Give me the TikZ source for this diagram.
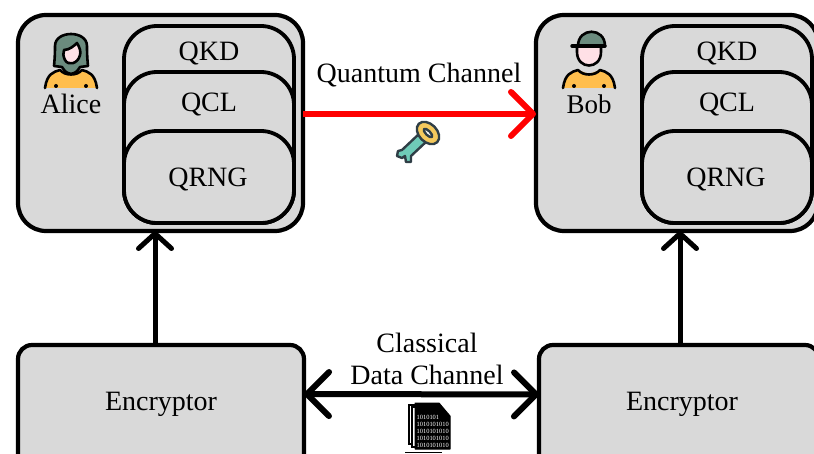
\documentclass[tikz,border=0pt]{standalone}
\usepackage{fontspec}
\setmainfont{Liberation Serif}
\usetikzlibrary{arrows.meta}
\definecolor{boxgray}{HTML}{D9D9D9}
\definecolor{hairgreen}{HTML}{6B8B7E}
\definecolor{shirt}{HTML}{FFBE4D}
\definecolor{skin}{HTML}{FFE0E6}
\definecolor{keyteal}{HTML}{6FCBB8}
\definecolor{keygold}{HTML}{F4C95D}
\definecolor{keydark}{HTML}{2F3E46}
\tikzset{
  x=1pt,y=-1pt,
  outerbox/.style={draw=black,fill=boxgray,line width=4.2pt,rounded corners=28pt,anchor=north west,inner sep=0pt,outer sep=0pt},
  innerbox/.style={draw=black,fill=boxgray,line width=3.8pt,rounded corners=33pt,anchor=north west,inner sep=0pt,outer sep=0pt},
  encbox/.style={draw=black,fill=boxgray,line width=4.2pt,rounded corners=14pt,anchor=north west,inner sep=0pt,outer sep=0pt},
  lbl/.style={font=\fontsize{28}{31}\selectfont,text=black,align=center,inner sep=0pt},
  blackarrow/.style={line width=5pt,draw=black,-{Straight Barb[round,length=15pt,width=33pt,line width=5pt]}},
  bothblack/.style={line width=6pt,draw=black,{Straight Barb[round,length=22pt,width=44pt,line width=6pt]}-{Straight Barb[round,length=22pt,width=44pt,line width=6pt]}},
  redarrow/.style={line width=6pt,draw=red,-{Straight Barb[round,length=22pt,width=44pt,line width=6pt]}},
  icon/.style={line width=2.6pt,draw=black,line join=round,line cap=round},
}
\newcommand{\mkperson}{%
  \fill[shirt] (-25,88) .. controls (-24,74) and (-18,72) .. (-11,70) -- (0,74) -- (11,70) .. controls (18,72) and (24,74) .. (25,88) -- cycle;
  \draw[icon] (-26,88) .. controls (-24,74) and (-18,72) .. (-11,70) .. controls (-6,76) and (6,76) .. (11,70) .. controls (18,72) and (24,74) .. (26,88);
  \fill (-15,86) circle (2pt);
  \fill (15,86) circle (2pt);
}
\begin{document}
\begin{tikzpicture}
\useasboundingbox (0,0) rectangle (814,454);
\clip (0,0) rectangle (814,454);
% Alice side
\node[outerbox,minimum width=285pt,minimum height=216pt] (alicebox) at (18,15) {};
\node[innerbox,minimum width=170pt,minimum height=197pt] (aqkd) at (124,26) {};
\node[innerbox,minimum width=170pt,minimum height=151pt] (aqcl) at (124,72) {};
\node[innerbox,minimum width=170pt,minimum height=92pt] (aqrng) at (124,131) {};
\node[lbl] (aqkdt) at (209,54) {QKD};
\node[lbl] (aqclt) at (209,105) {QCL};
\node[lbl] (aqrngt) at (208,180) {QRNG};
% Bob side
\node[outerbox,minimum width=282pt,minimum height=216pt] (bobbox) at (536,15) {};
\node[innerbox,minimum width=170pt,minimum height=197pt] (bqkd) at (642,26) {};
\node[innerbox,minimum width=170pt,minimum height=151pt] (bqcl) at (642,72) {};
\node[innerbox,minimum width=170pt,minimum height=92pt] (bqrng) at (642,131) {};
\node[lbl] (bqkdt) at (727,54) {QKD};
\node[lbl] (bqclt) at (727,105) {QCL};
\node[lbl] (bqrngt) at (726,180) {QRNG};
% Encryptors
\node[encbox,minimum width=286pt,minimum height=130pt] (enca) at (18,345) {};
\node[encbox,minimum width=280pt,minimum height=130pt] (encb) at (539,345) {};
\node[lbl] (encat) at (161,404) {Encryptor};
\node[lbl] (encbt) at (682,404) {Encryptor};
% labels
\node[lbl] (alicet) at (71,104) {Alice};
\node[lbl,font=\fontsize{27}{30}\selectfont] (bobt) at (589,104) {Bob};
\node[lbl] (qch) at (419,75) {Quantum Channel};
\node[lbl] (cch) at (427,359) {Classical\\[1pt]Data Channel};
% connectors
\draw[blackarrow] ([xshift=-6pt]enca.north) -- ([xshift=-6pt]enca.north |- alicebox.south);
\draw[blackarrow] ([xshift=1pt]encb.north) -- ([xshift=1pt]encb.north |- bobbox.south);
\draw[redarrow] ([yshift=9pt]alicebox.east) -- ([yshift=9pt]bobbox.west);
\draw[bothblack] ([yshift=16pt]enca.east) -- ([yshift=15.5pt]encb.west);
% Alice icon
\begin{scope}[shift={(71,0)}]
  \mkperson
  \draw[icon,fill=hairgreen] (-17,66) .. controls (-16,56) and (-16,50) .. (-16,46) .. controls (-16,30) and (16,30) .. (16,46) .. controls (16,50) and (16,56) .. (17,66) -- (9,67) .. controls (4,76) and (-4,76) .. (-9,67) -- cycle;
  \draw[icon,fill=skin] (-7,50) .. controls (-2,50) and (3,46) .. (6,43) .. controls (9,48) and (10,52) .. (9,55) .. controls (7,64) and (-3,66) .. (-6,60) .. controls (-8,56) and (-8,53) .. (-7,50) -- cycle;
\end{scope}
% Bob icon
\begin{scope}[shift={(589,0)}]
  \mkperson
  \draw[icon,fill=skin] (-12,46) -- (-12,52) .. controls (-12,70) and (12,70) .. (12,52) -- (12,46) -- cycle;
  \draw[icon,fill=hairgreen] (-11,46) .. controls (-11,27) and (16,27) .. (16,46) -- cycle;
  \draw[icon,line width=3.4pt] (-17,46) -- (16,46);
\end{scope}
% Key icon
\begin{scope}[line join=round]
  \draw[keydark,line width=2.4pt,fill=keyteal] (420,133) -- (402,150) -- (398,151) -- (397,156) -- (402,158) -- (405,156) -- (406,162) -- (411,162) -- (411,156) -- (427,141) -- cycle;
  \draw[keydark,line width=2.4pt,fill=keygold,rotate around={-45:(428,133)}] (428,133) ellipse (13pt and 9pt);
  \draw[keydark,line width=2.4pt,fill=white,rotate around={-45:(428,133)}] (428,133) ellipse (5.5pt and 2.2pt);
\end{scope}
% Data file icon
\draw[black,line width=1.6pt,fill=white] (409,405) -- (436,405) -- (436,444) -- (409,444) -- cycle;
\draw[black,line width=1.6pt,fill=white] (412,407) -- (438,407) -- (438,447) -- (412,447) -- cycle;
\draw[black,fill=black,line width=1pt,line join=round] (415,403) -- (439,403) -- (450,416) -- (450,449) -- (415,449) -- cycle;
\node[inner sep=0pt,align=left,anchor=north west,text=white,font=\fontsize{6.4}{7}\selectfont] (bits) at (416.5,415) {1010101\\1010101010\\1010101010\\1010101010\\1010101010};
\coordinate (ula) at (405,452.5);
\coordinate (ulb) at (442,452.5);
\draw[black,line width=1pt] (ula) -- (ulb);
\end{tikzpicture}
\end{document}
